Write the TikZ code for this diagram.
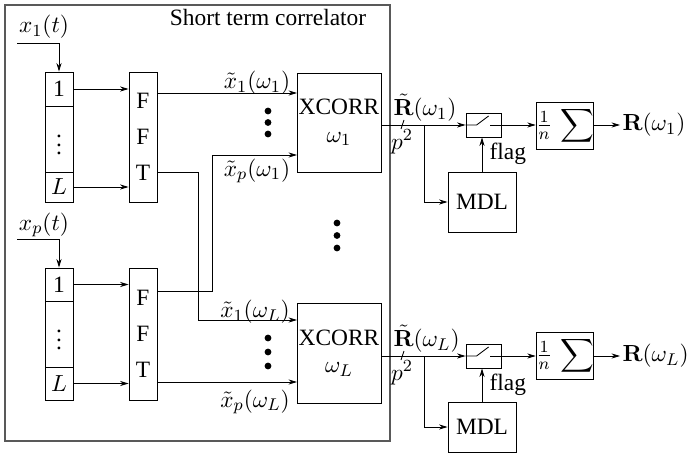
\documentclass[tikz,border=0pt]{standalone}
\usepackage[no-math]{fontspec}
\setmainfont{Liberation Serif}
\usepackage{amsmath,amssymb}
\usepackage{tikz}
\usetikzlibrary{arrows.meta}
\def\px{0.47pt}
\tikzset{
  box/.style 2 args={draw, rectangle, inner sep=0pt, align=center,
    minimum width=#1*\px, minimum height=#2*\px},
  sig/.style={-{Stealth[length=4pt,width=2.4pt]}},
  lbl/.style={inner sep=1pt},
}

\begin{document}
\begin{tikzpicture}[x=\px, y=-\px, font=\fontsize{11}{13}\selectfont]
    \useasboundingbox (0,0) rectangle (694,466);
    \draw[black!65, line width=0.6pt] (5,5) rectangle (390,441);
    \node[lbl] (title) at (268,17) {Short term correlator};
      % input registers and FFT
    \node[box={28}{34}] (r1a) at (59,89) {1};
    \node[box={28}{66}] (r1b) at (59,139) {$\vdots$};
    \node[box={28}{30}] (r1c) at (59,187) {$L$};
    \node[box={28}{130}] (fft1) at (143,137) {F\\[4pt]F\\[4pt]T};
    \node[box={28}{33}] (r2a) at (59,284.5) {1};
    \node[box={28}{66}] (r2b) at (59,334) {$\vdots$};
    \node[box={28}{33}] (r2c) at (59,383.5) {$L$};
    \node[box={28}{132}] (fft2) at (143,334) {F\\[4pt]F\\[4pt]T};
    \coordinate (in1) at (17,43);
    \coordinate (inp) at (17,239);
    \node[lbl] (x1t) at (44,27) {$x_1(t)$};
    \node[lbl] (xpt) at (44,225) {$x_p(t)$};
    \draw[sig] (in1) -| (r1a.north);
    \draw[sig] (inp) -| (r2a.north);
    \draw[sig] (r1a.east) -- (r1a.east -| fft1.west);
    \draw[sig] (r1c.east) -- (r1c.east -| fft1.west);
    \draw[sig] (r2a.east) -- (r2a.east -| fft2.west);
    \draw[sig] (r2c.east) -- (r2c.east -| fft2.west);
      % correlators
    \node[box={84}{99}] (xc1) at (339,122.5) {XCORR\\$\omega_1$};
    \node[box={84}{100}] (xcL) at (339,353) {XCORR\\$\omega_L$};
    \coordinate (a11) at (297,93);
    \coordinate (a1p) at (297,155);
    \coordinate (aL1) at (297,320);
    \coordinate (aLp) at (297,382);
    \coordinate (f1o) at (157,172);
    \coordinate (f2o) at (157,291);
    \draw[sig] (fft1.east |- a11) -- (a11);
    \draw[sig] (f2o) -- ++(55,0) |- (a1p);
    \draw[sig] (f1o) -- ++(41,0) |- (aL1);
    \draw[sig] (fft2.east |- aLp) -- (aLp);
    \node[lbl] (l11) at (257,83) {$\tilde{x}_1(\omega_1)$};
    \node[lbl] (l1p) at (257,171) {$\tilde{x}_p(\omega_1)$};
    \node[lbl] (lL1) at (255,312) {$\tilde{x}_1(\omega_L)$};
    \node[lbl] (lLp) at (255,402) {$\tilde{x}_p(\omega_L)$};
    \fill (268,111) circle (1.6pt) (268,122.5) circle (1.6pt) (268,134) circle (1.6pt);
    \fill (268,338) circle (1.6pt) (268,352) circle (1.6pt) (268,366) circle (1.6pt);
    \fill (337,223) circle (1.6pt) (337,235.5) circle (1.6pt) (337,248) circle (1.6pt);
      % first frequency
    \node[box={35}{24}] (sw1) at (483.5,125) {};
    \node[box={46}{47}] (sum1) at (565,125.5) {$\displaystyle\tfrac{1}{n}\,\sum$};
    \node[box={68}{60}] (mdl1) at (482,202) {MDL};
    \node[lbl, anchor=west] (out1) at (620,125) {$\mathbf{R}(\omega_1)$};
    \coordinate (br1) at (424,125);
    \draw[sig] (xc1.east |- sw1) -- (sw1.west);
    \draw[sig] (br1) |- (mdl1.west);
    \draw[sig] (mdl1.north) -- (mdl1.north |- sw1.south);
    \draw[sig] (sw1.east) -- (sum1.west |- sw1);
    \draw[sig] (sum1.east |- sw1) -- (out1.west);
    \draw (sw1.west) -- ++(11,0) -- ++(12,-9);
    \draw (sw1.east) -- ++(-11,0);
    \node[lbl, anchor=west] (rt1) at (391,108) {$\tilde{\mathbf{R}}(\omega_1)$};
    \node[lbl] (p1) at (402,142) {$p^2$};
    \draw (401,129) -- (404,120);
    \node[lbl, anchor=west] (fl1) at (487,154) {flag};
      % last frequency
    \node[box={35}{24}] (swL) at (483.5,356) {};
    \node[box={46}{47}] (sumL) at (565,355.5) {$\displaystyle\tfrac{1}{n}\,\sum$};
    \node[box={68}{50}] (mdlL) at (482,427) {MDL};
    \node[lbl, anchor=west] (outL) at (620,356) {$\mathbf{R}(\omega_L)$};
    \coordinate (brL) at (424,356);
    \draw[sig] (xcL.east |- swL) -- (swL.west);
    \draw[sig] (brL) |- (mdlL.west);
    \draw[sig] (mdlL.north) -- (mdlL.north |- swL.south);
    \draw[sig] (swL.east) -- (sumL.west |- swL);
    \draw[sig] (sumL.east |- swL) -- (outL.west);
    \draw (swL.west) -- ++(11,0) -- ++(12,-9);
    \draw (swL.east) -- ++(-11,0);
    \node[lbl, anchor=west] (rtL) at (391,339) {$\tilde{\mathbf{R}}(\omega_L)$};
    \node[lbl] (pL) at (402,373) {$p^2$};
    \draw (401,360) -- (404,351);
    \node[lbl, anchor=west] (flL) at (487,385) {flag};
\end{tikzpicture}
\end{document}
